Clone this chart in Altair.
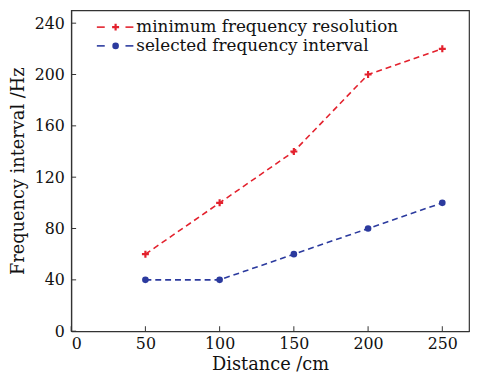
import altair as alt
import pandas as pd

distance = [50, 100, 150, 200, 250]
min_resolution = [60, 100, 140, 200, 220]
selected_interval = [40, 40, 60, 80, 100]
series_names = ["minimum frequency resolution", "selected frequency interval"]
x_ticks = [0, 50, 100, 150, 200, 250]
y_ticks = [0, 40, 80, 120, 160, 200, 240]

RED = "#e3212d"
BLUE = "#2b3a9e"
FONT = "DejaVu Serif"

df_red = pd.DataFrame({"Distance": distance, "Value": min_resolution, "Series": series_names[0]})
df_blue = pd.DataFrame({"Distance": distance, "Value": selected_interval, "Series": series_names[1]})

W, H = 403, 325
xs = alt.Scale(domain=[0, 268], nice=False, zero=False)
ys = alt.Scale(domain=[0, 250], nice=False, zero=False)

xenc = alt.X("Distance:Q", scale=xs,
             axis=alt.Axis(values=x_ticks, title="Distance /cm", format="d", ticks=False,
                           labelPadding=5, titlePadding=4))
yenc = alt.Y("Value:Q", scale=ys,
             axis=alt.Axis(values=y_ticks, title="Frequency interval /Hz", format="d", ticks=False,
                           labelPadding=7, titlePadding=7))

PLUS = "M-1,0L1,0M0,-1L0,1"

red_line = alt.Chart(df_red).mark_line(color=RED, strokeDash=[6, 4], strokeWidth=1.6).encode(x=xenc, y=yenc)
red_pts = alt.Chart(df_red).mark_point(shape=PLUS, color=RED, filled=False, size=50, strokeWidth=2.2, opacity=1).encode(x=xenc, y=yenc)
blue_line = alt.Chart(df_blue).mark_line(color=BLUE, strokeDash=[6, 4], strokeWidth=1.6).encode(x=xenc, y=yenc)
blue_pts = alt.Chart(df_blue).mark_point(shape="circle", color=BLUE, filled=True, size=45, opacity=1).encode(x=xenc, y=yenc)

# inward ticks
xt = pd.DataFrame({"Distance": x_ticks})
yt = pd.DataFrame({"Value": y_ticks})
xtick_rules = alt.Chart(xt).mark_rule(color="#333", strokeWidth=1).encode(
    x=alt.X("Distance:Q", scale=xs), y=alt.value(H), y2=alt.value(H - 5))
ytick_rules = alt.Chart(yt).mark_rule(color="#333", strokeWidth=1).encode(
    y=alt.Y("Value:Q", scale=ys), x=alt.value(0), x2=alt.value(5))

# legend
leg = []
rows = [(series_names[0], RED, 17, "plus"), (series_names[1], BLUE, 36, "dot")]
for name, col, yy, kind in rows:
    d = pd.DataFrame({"label": [name]})
    leg.append(alt.Chart(d).mark_rule(color=col, strokeWidth=1.6).encode(
        x=alt.value(26), x2=alt.value(34), y=alt.value(yy)))
    leg.append(alt.Chart(d).mark_rule(color=col, strokeWidth=1.6).encode(
        x=alt.value(55), x2=alt.value(63), y=alt.value(yy)))
    if kind == "plus":
        leg.append(alt.Chart(d).mark_point(shape=PLUS, color=col, filled=False, size=50, strokeWidth=2.2, opacity=1).encode(
            x=alt.value(45), y=alt.value(yy)))
    else:
        leg.append(alt.Chart(d).mark_point(shape="circle", color=col, filled=True, size=45, opacity=1).encode(
            x=alt.value(45), y=alt.value(yy)))
    leg.append(alt.Chart(d).mark_text(align="left", baseline="middle", font=FONT, fontSize=17, color="#111").encode(
        x=alt.value(66), y=alt.value(yy), text="label:N"))

chart = alt.layer(xtick_rules, ytick_rules, red_line, blue_line, red_pts, blue_pts, *leg).properties(
    width=W, height=H,
    background="white",
    autosize=alt.AutoSizeParams(type="none"),
    padding={"left": 64, "top": 0, "right": 2, "bottom": 41},
).configure_view(stroke="#333", strokeWidth=1.2).configure_axis(
    grid=False, domainColor="#333", domainWidth=1.2,
    labelFont=FONT, labelFontSize=16, labelColor="#111",
    titleFont=FONT, titleFontSize=18, titleFontWeight="normal", titleColor="#111",
)

chart.save("out.html", embed_options={"renderer": "svg", "actions": False})
